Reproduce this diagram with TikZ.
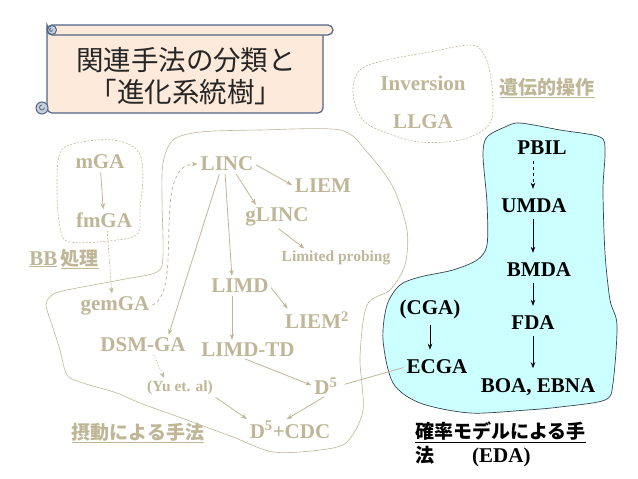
\documentclass[tikz,border=0pt]{standalone}
\usepackage{fontspec}
\setmainfont{Liberation Serif}
\newfontfamily\jpfont{Noto Sans CJK JP}
\usepackage{tikz}
\usetikzlibrary{arrows.meta}
\definecolor{oldtan}{RGB}{190,182,150}
\definecolor{edacyan}{RGB}{204,255,255}
\definecolor{edaline}{RGB}{50,70,80}
\definecolor{scrollfill}{RGB}{253,234,218}
\definecolor{scrolldraw}{RGB}{80,102,135}
\definecolor{curlfill}{RGB}{200,206,218}
\tikzset{
  gname/.style={text=oldtan,font=\bfseries\fontsize{21}{25}\selectfont,inner sep=1pt},
  gsmall/.style={text=oldtan,font=\bfseries\fontsize{15.5}{18}\selectfont,inner sep=1pt},
  kname/.style={text=black,font=\bfseries\fontsize{21}{25}\selectfont,inner sep=1pt},
  jlabel/.style={font=\jpfont\bfseries\fontsize{19}{24}\selectfont,inner sep=1pt},
  scroll/.style={draw=scrolldraw,line width=1.2pt,fill=scrollfill},
  cloudline/.style={draw=oldtan,line width=0.6pt},
  dashcloud/.style={draw=oldtan,line width=0.6pt,dash pattern=on 2pt off 1.5pt},
  tarrow/.style={draw=oldtan,-{Stealth[length=6pt,width=4.5pt]},line width=0.8pt,shorten <=2pt,shorten >=2pt},
  karrow/.style={draw=black,-{Stealth[length=6pt,width=4.5pt]},line width=0.8pt,shorten <=5pt,shorten >=9pt},
}
\begin{document}
\begin{tikzpicture}[x=1pt,y=-1pt]
\useasboundingbox (0,0) rectangle (638,479);
% title scroll
\filldraw[scroll,rounded corners=5pt] (47,30) |- (323,113) |- cycle;
\filldraw[scroll,rounded corners=5pt] (47,25) rectangle (333,35);
\filldraw[scroll,fill=curlfill,line width=1pt] (52,30) circle (4.5pt);
\draw[scrolldraw,line width=0.8pt] (51,28) arc (90:360:1.8pt);
\filldraw[scroll,fill=curlfill,line width=1pt] (42,108) circle (6pt);
\draw[scrolldraw,line width=0.8pt] (42,105) arc (90:360:2.5pt);
\node[font=\jpfont\fontsize{27.5}{32}\selectfont,text=black!85,align=center] (title) at (186,76)
  {関連手法の分類と\\「進化系統樹」};

% outlines
\draw[dashcloud] plot[smooth cycle,tension=0.6] coordinates {(360,70) (387,60) (430,52) (470,45) (483,53)
  (490,73) (493,107) (487,127) (460,140) (420,142) (387,133) (363,120) (353,93)};
\draw[dashcloud] plot[smooth cycle,tension=0.6] coordinates {(60,153) (77,143) (113,140) (137,150)
  (143,173) (140,210) (138,233) (117,240) (70,242) (60,227) (57,190)};
\draw[cloudline] plot[smooth cycle,tension=0.5] coordinates {(200,132) (260,130) (340,130) (367,152)
  (393,187) (407,230) (405,265) (390,290) (367,305) (360,357) (363,410) (347,442) (320,450) (273,452)
  (233,437) (187,420) (140,403) (117,393) (83,383) (67,375) (60,350) (52,325) (46,305) (52,295)
  (67,290) (120,280) (157,272) (163,255) (162,200) (163,163) (173,140)};
\filldraw[fill=edacyan,draw=edaline,line width=0.7pt] plot[smooth cycle,tension=0.5] coordinates {(487,137)
  (505,127) (520,123) (560,130) (600,137) (605,152) (603,190) (605,253) (610,300) (617,325) (613,383)
  (605,400) (560,407) (527,410) (470,413) (420,403) (393,383) (383,340) (387,305) (400,285) (420,277)
  (453,270) (477,260) (487,245) (487,203) (483,155)};

% genetic operators
\node[gname] (inv) at (423,83) {Inversion};
\node[gname] (llga) at (423,122) {LLGA};
\node[jlabel,text=oldtan] (lbgen) at (547,88) {\underline{遺伝的操作}};

% BB processing
\node[gname] (mga) at (100,162) {mGA};
\node[gname] (fmga) at (104,220) {fmGA};
\node[jlabel,text=oldtan] (lbbb) at (64,259) {\underline{\rmfamily\fontsize{21}{24}\selectfont BB}\,\underline{処理}};
\node[gname] (gemga) at (115,306) {gemGA};

% perturbation
\node[gname] (linc) at (227,164) {LINC};
\node[gname] (liem) at (323,186) {LIEM};
\node[gname] (glinc) at (277,217) {gLINC};
\node[gsmall] (probe) at (336,258) {Limited probing};
\node[gname] (limd) at (240,286) {LIMD};
\node[gname] (liem2) at (317,320) {LIEM\textsuperscript{2}};
\node[gname] (limdtd) at (248,350) {LIMD-TD};
\node[gname] (dsmga) at (143,345) {DSM-GA};
\node[gsmall] (yu) at (180,388) {(Yu et. al)};
\node[gname] (dfive) at (326,386) {D\textsuperscript{5}};
\node[gname] (dcdc) at (290,430) {D\textsuperscript{5}+CDC};
\node[jlabel,text=oldtan] (lbpert) at (138,433) {\underline{摂動による手法}};

% EDA
\node[kname] (pbil) at (542,148) {PBIL};
\node[kname] (umda) at (534,206) {UMDA};
\node[kname] (bmda) at (539,270) {BMDA};
\node[kname] (cga) at (430,309) {(CGA)};
\node[kname] (fda) at (533,323) {FDA};
\node[kname] (ecga) at (437,367) {ECGA};
\node[kname] (boa) at (538,387) {BOA, EBNA};
\node[jlabel,text=black,align=left,anchor=north west] (lbeda) at (414,421)
  {\underline{確率モデルによる手}\\法\hspace{38pt}{\rmfamily\fontsize{21}{24}\selectfont (EDA)}};

\draw[tarrow] (mga) -- (fmga);
\draw[tarrow,dash pattern=on 2pt off 1.5pt,line width=0.6pt] ([xshift=3pt]fmga.south) -- ([xshift=-3pt]gemga.north);
\draw[tarrow,dashed] (gemga.east) .. controls (185,290) and (150,165) .. (linc.west);
\draw[tarrow] (linc.east) -- (liem.west);
\draw[tarrow] ([xshift=8pt]linc.south) -- ([xshift=-20pt]glinc.north);
\draw[tarrow] ([xshift=-2pt]linc.south) -- ([xshift=-8pt]limd.north);
\draw[tarrow] ([xshift=-7pt]linc.south) -- ([xshift=25pt]dsmga.north);
\draw[tarrow] (glinc.south) -- ([xshift=-30pt]probe.north);
\draw[tarrow] (limd.east) -- ([xshift=5pt]liem2.north west);
\draw[tarrow] ([xshift=-8pt]limd.south) -- ([xshift=-16pt]limdtd.north);
\draw[tarrow] ([xshift=-5pt]limdtd.south) -- (dfive.west);
\draw[tarrow] (dfive.south) -- ([xshift=-5pt]dcdc.north);
\draw[tarrow] (yu.south east) -- (dcdc.north west);
\draw[tarrow,dotted] ([xshift=10pt]dsmga.south) -- ([xshift=-15pt]yu.north);
\draw[oldtan,line width=0.8pt,shorten <=2pt,shorten >=6pt] (ecga.west) -- (dfive.east);

\draw[karrow,dashed,line width=0.6pt] (pbil.south -| fda.center) -- (umda.north -| fda.center);
\draw[karrow] (umda.south -| fda.center) -- (bmda.north -| fda.center);
\draw[karrow] (bmda.south -| fda.center) -- (fda.north);
\draw[karrow] (fda.south) -- (boa.north -| fda.center);
\draw[karrow] (cga.south) -- (ecga.north -| cga.center);
\end{tikzpicture}
\end{document}
